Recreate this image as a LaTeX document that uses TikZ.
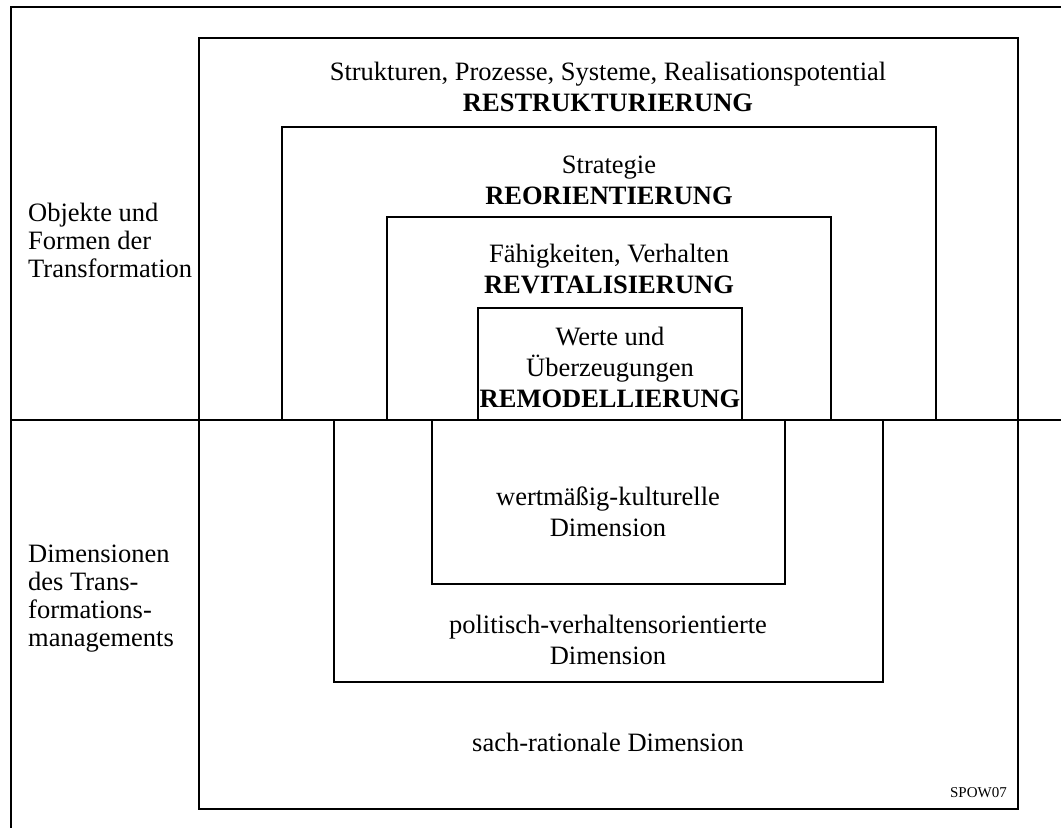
\documentclass[tikz,border=0pt]{standalone}
\usepackage{fontspec}
\setmainfont{Liberation Serif}

\begin{document}
\begin{tikzpicture}[x=1pt,y=-1pt,
  frame/.style={line width=2.6pt},
  box/.style={line width=1.8pt},
  lbl/.style={align=center,inner sep=0pt,anchor=base,font=\fontsize{26.5}{31}\selectfont},
  side/.style={align=left,inner sep=0pt,anchor=base west,font=\fontsize{26.5}{28}\selectfont}]
  \useasboundingbox (0,0) rectangle (1061,828);
  %
  \draw[box] (199,38) rectangle (1018,809);
  \draw[box] (282,420) |- (936,127) -- (936,420);
  \draw[box] (387,420) |- (831,217) -- (831,420);
  \draw[box] (478,420) |- (742,308) -- (742,420);
  \draw[box] (334,420) |- (883,682) -- (883,420);
  \draw[box] (432,420) |- (785,584) -- (785,420);
  %
  \draw[frame] (1061,7) -- (11,7) -- (11,828);
  \draw[frame] (11,420) -- (1061,420);
  %
  \node[side] (objekte) at (28,277) {Objekte und\\Formen der\\Transformation};
  \node[side] (dimens) at (28,646) {Dimensionen\\des Trans-\\formations-\\managements};
  %
  \node[lbl] (restrukt) at (608,111) {Strukturen, Prozesse, Systeme, Realisationspotential\\\textbf{RESTRUKTURIERUNG}};
  \node[lbl] (reorient) at (609,204) {Strategie\\\textbf{REORIENTIERUNG}};
  \node[lbl] (revital) at (609,293) {Fähigkeiten, Verhalten\\\textbf{REVITALISIERUNG}};
  \node[lbl] (remodell) at (610,407) {Werte und\\Überzeugungen\\\textbf{REMODELLIERUNG}};
  %
  \node[lbl] (kultur) at (608,536) {wertmäßig-kulturelle\\Dimension};
  \node[lbl] (politik) at (608,664) {politisch-verhaltensorientierte\\Dimension};
  \node[lbl] (sach) at (608,751) {sach-rationale Dimension};
  \node[inner sep=0pt,anchor=base east,font=\fontsize{15}{18}\selectfont] (kuerzel) at (1007,797) {SPOW07};
\end{tikzpicture}
\end{document}
